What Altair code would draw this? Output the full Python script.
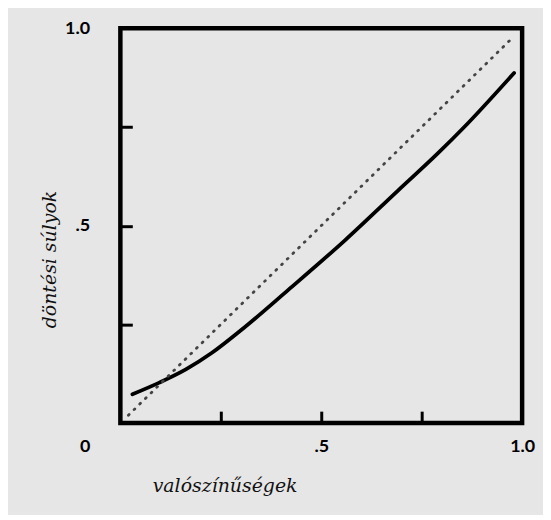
import altair as alt
import pandas as pd

# decision weight curve
prob = [0.03, 0.097, 0.163, 0.228, 0.30, 0.418, 0.559, 0.691, 0.79, 0.856, 0.98]
weight = [0.073, 0.1025, 0.136, 0.178, 0.235, 0.3375, 0.463, 0.589, 0.683, 0.75, 0.887]
# dotted identity line end points
diag = [0.02, 0.98]
tick_values = [0.25, 0.5, 0.75]
x_label_values = [0, 0.5, 1.0]
y_label_values = [0.5, 1.0]

curve_df = pd.DataFrame({"p": prob, "w": weight})
diag_df = pd.DataFrame({"p": diag, "w": diag})

sx = alt.Scale(domain=[0, 1], nice=False, zero=False)
sy = alt.Scale(domain=[0, 1], nice=False, zero=False)

label_font = "Lato"
title_font = "DejaVu Serif"

x_lab_axis = alt.Axis(
    values=x_label_values, ticks=False, tickSize=0, domain=False, grid=False,
    labelExpr="datum.value == 0 ? '0' : (datum.value == 1 ? '1.0' : '.5')",
    labelFont=label_font, labelFontWeight="bold", labelFontSize=18, labelColor="#000",
    labelPadding=15, labelBaseline="top", labelAlign="center",
    labelOffset={"condition": {"test": "datum.value == 0", "value": -36}, "value": 0},
    labelFlush=False, labelOverlap=False,
    title="valószínűségek", titleFont=title_font, titleFontStyle="italic",
    titleFontWeight="normal", titleFontSize=19, titleColor="#111",
    titleAnchor="start", titleAlign="left", titleBaseline="middle",
    titleX=32, titleY=63, orient="bottom",
)
y_lab_axis = alt.Axis(
    values=y_label_values, ticks=False, tickSize=0, domain=False, grid=False,
    labelExpr="datum.value == 1 ? '1.0' : '.5'",
    labelFont=label_font, labelFontWeight="bold", labelFontSize=18, labelColor="#000",
    labelPadding=31, labelBaseline="middle", labelFlush=False, labelOverlap=False,
    title="döntési súlyok", titleFont=title_font, titleFontStyle="italic",
    titleFontWeight="normal", titleFontSize=19, titleColor="#111",
    titleAngle=270, titleAlign="center", titleBaseline="middle",
    titleX=-71, titleY=232, orient="left",
)
x_tick_axis = alt.Axis(
    values=tick_values, labels=False, domain=False, grid=False, ticks=True,
    tickSize=12, tickWidth=3, tickColor="black", offset=-12, title=None, orient="bottom",
)
y_tick_axis = alt.Axis(
    values=tick_values, labels=False, domain=False, grid=False, ticks=True,
    tickSize=12, tickWidth=3, tickColor="black", offset=-12, title=None, orient="left",
)

curve = alt.Chart(curve_df).mark_line(
    color="black", strokeWidth=3.8, interpolate="monotone", strokeCap="round"
).encode(
    x=alt.X("p:Q", scale=sx, axis=x_lab_axis),
    y=alt.Y("w:Q", scale=sy, axis=y_lab_axis),
)

diagonal = alt.Chart(diag_df).mark_line(
    color="#444", strokeWidth=2.8, strokeDash=[1, 7], strokeCap="round"
).encode(
    x=alt.X("p:Q", scale=sx, axis=x_tick_axis),
    y=alt.Y("w:Q", scale=sy, axis=y_tick_axis),
)

chart = alt.layer(curve, diagonal).resolve_axis(
    x="independent", y="independent"
).properties(
    width=404, height=397,
    autosize=alt.AutoSizeParams(type="none"),
    padding={"left": 113, "top": 19, "right": 21, "bottom": 91},
    background="#e6e6e6",
).configure_view(
    stroke="black", strokeWidth=4.5
)

chart.save("out.html", embed_options={"renderer": "svg", "actions": False})
